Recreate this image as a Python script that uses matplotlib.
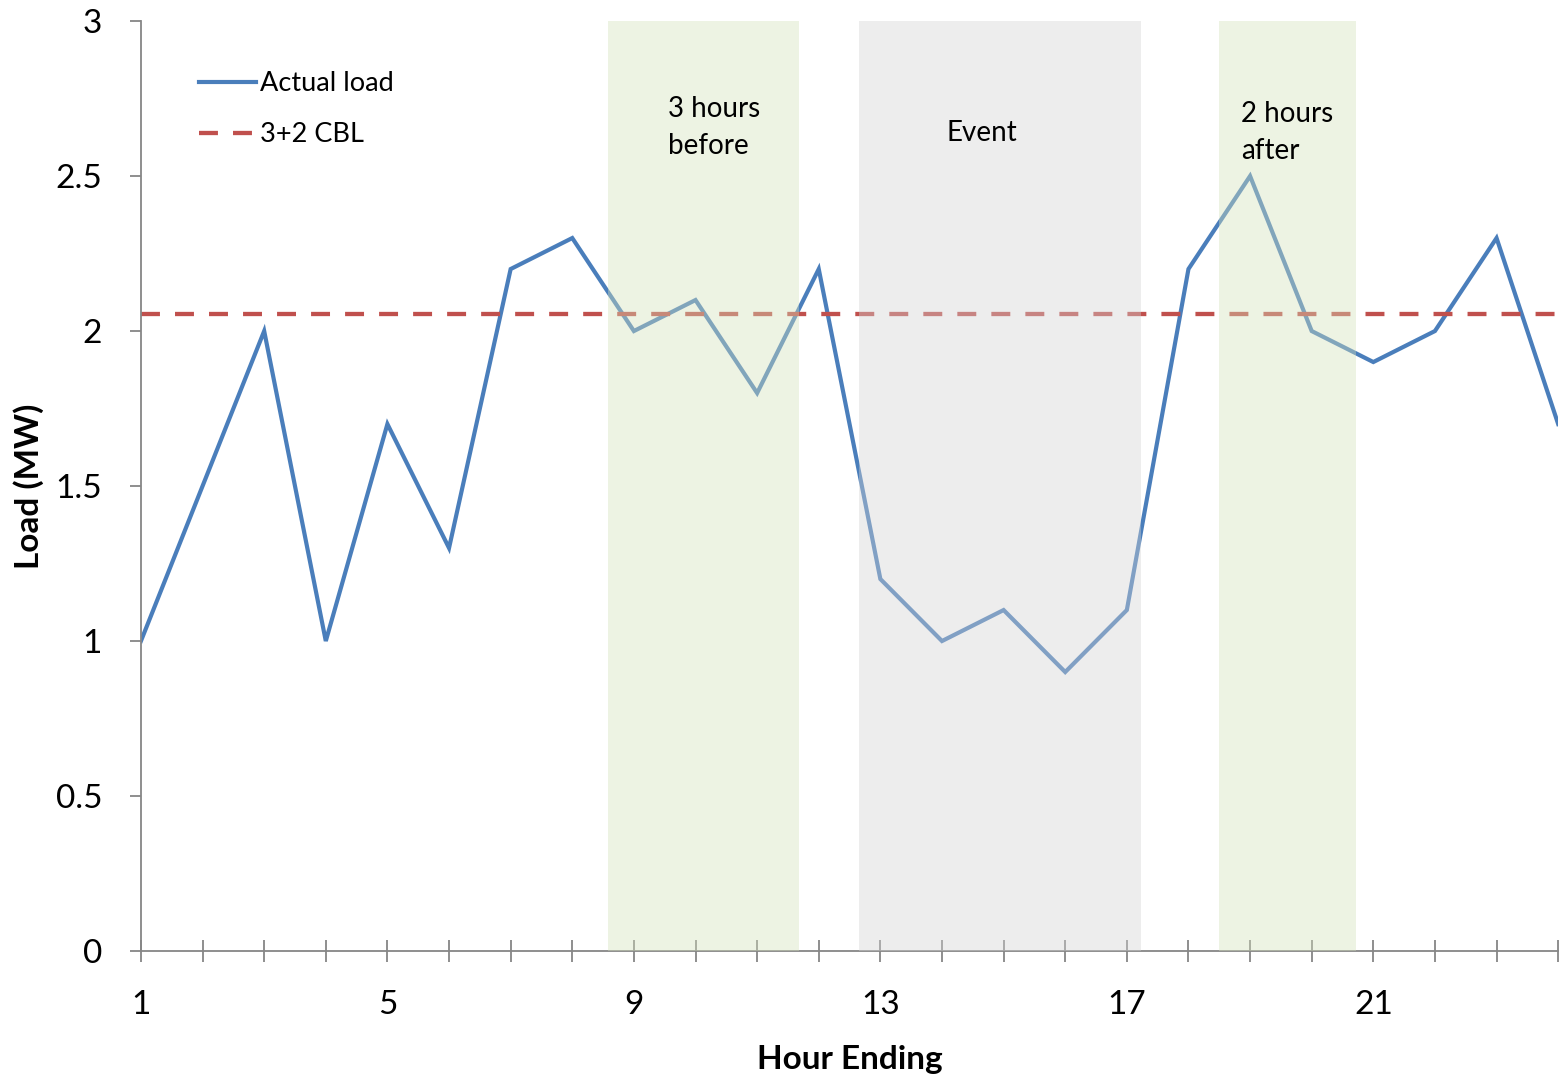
import matplotlib.pyplot as plt

# Hourly load readings (MW) for hour ending 1..24
hours = list(range(1, 25))
actual_load = [1.0, 1.5, 2.0, 1.0, 1.7, 1.3, 2.2, 2.3, 2.0, 2.1, 1.8, 2.2,
               1.2, 1.0, 1.1, 0.9, 1.1, 2.2, 2.5, 2.0, 1.9, 2.0, 2.3, 1.7]
cbl_value = 2.055

# Shaded windows: (start, end, label)
windows = [(8.58, 11.68, '3 hours\nbefore'),
           (12.65, 17.23, 'Event'),
           (18.5, 20.72, '2 hours\nafter')]
window_colors = ['#D4E1BB', '#D4D4D4', '#D4E1BB']

plt.rcParams['font.family'] = ['Lato', 'DejaVu Sans']

fig = plt.figure(figsize=(15.66, 10.74), dpi=100)
ax = fig.add_axes([0.090, 0.1145, 0.905, 0.8659])

ax.plot(hours, actual_load, color='#4A7EBB', lw=3.0, label='Actual load',
        solid_joinstyle='miter', zorder=2)
ax.axhline(cbl_value, color='#C0504D', lw=3.1, ls=(0, (4.4, 3.5)),
           dash_capstyle='butt', label='3+2 CBL', zorder=2)

for (x0, x1, _), c in zip(windows, window_colors):
    ax.axvspan(x0, x1, ymin=0, ymax=1.0, color=c, alpha=0.4, lw=0, zorder=3)

ax.text(9.55, 2.657, windows[0][2], fontsize=20, ha='left', va='center',
        linespacing=1.5, zorder=4)
ax.text(14.65, 2.64, windows[1][2], fontsize=20, ha='center', va='center',
        zorder=4)
ax.text(18.85, 2.64, windows[2][2], fontsize=20, ha='left', va='center',
        linespacing=1.5, zorder=4)

ax.set_xlim(1, 24)
ax.set_ylim(0, 3)
ax.set_xticks(hours)
ax.set_xticklabels([str(h) if h in (1, 5, 9, 13, 17, 21) else '' for h in hours])
ax.set_yticks([0, 0.5, 1, 1.5, 2, 2.5, 3])
ax.set_yticklabels(['0', '0.5', '1', '1.5', '2', '2.5', '3'])

for side in ('top', 'right'):
    ax.spines[side].set_visible(False)
for side in ('left', 'bottom'):
    ax.spines[side].set_color('#868686')
    ax.spines[side].set_linewidth(1.3)

ax.tick_params(axis='y', direction='out', length=8, width=1.3, color='#868686',
               labelsize=24, pad=20)
ax.tick_params(axis='x', direction='inout', length=16, width=1.3, color='#868686',
               labelsize=24, pad=20)

ax.set_xlabel('Hour Ending', fontsize=24, fontweight='bold', labelpad=18)
ax.set_ylabel('Load (MW)', fontsize=24, fontweight='bold', labelpad=8)

ax.legend(loc='upper left', bbox_to_anchor=(0.0237, 0.972), frameon=False,
          fontsize=19.5, handlelength=2.1, handletextpad=0.15, labelspacing=0.95)

fig.savefig('out.png', dpi=100)
